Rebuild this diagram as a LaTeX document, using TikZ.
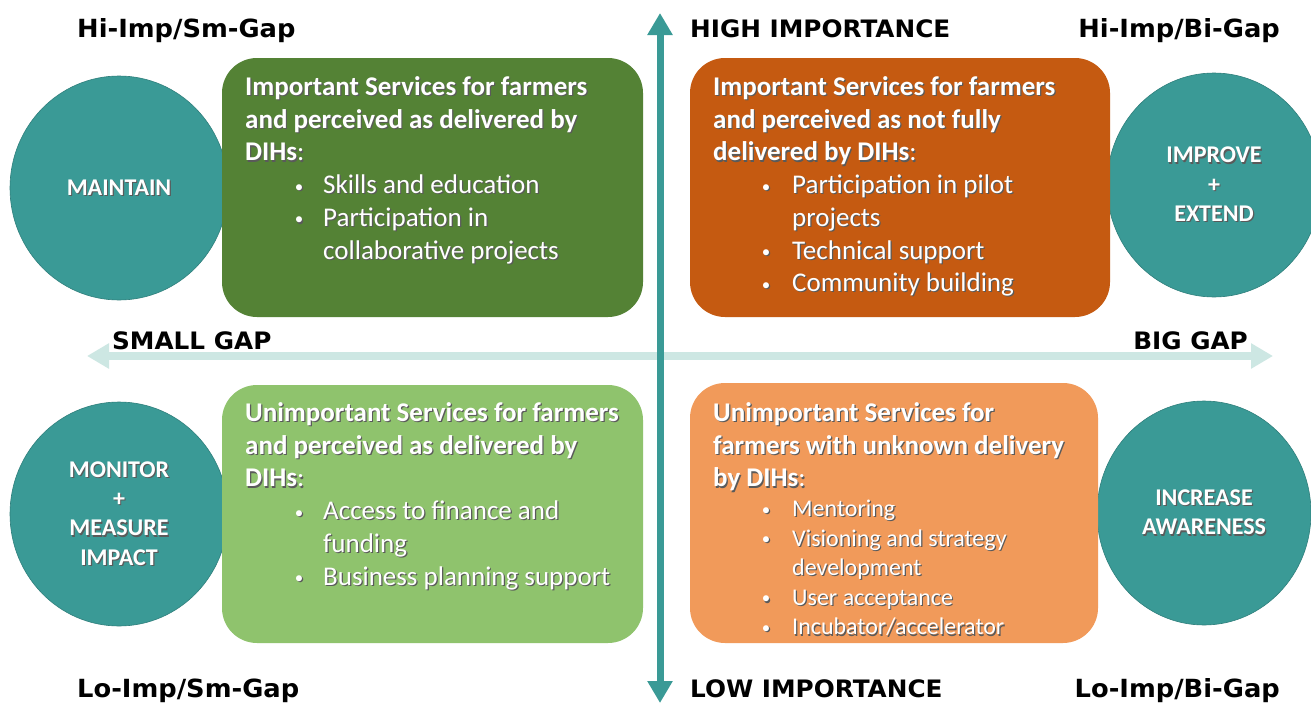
\documentclass[tikz,border=0pt]{standalone}
\usepackage{fontspec}
\setmainfont{Carlito}
\newfontfamily\lblfont{DejaVu Sans}[FakeStretch=1.03]
\usetikzlibrary{arrows.meta,shapes.geometric}
\definecolor{tealc}{HTML}{3A9A96}
\definecolor{tealline}{HTML}{2F7F7C}
\definecolor{axislight}{HTML}{CDE7E3}
\definecolor{dkgreen}{HTML}{548235}
\definecolor{dkorange}{HTML}{C55A11}
\definecolor{ltgreen}{HTML}{8FC36D}
\definecolor{ltorange}{HTML}{F19A5A}
\definecolor{shadowc}{HTML}{5A5A5A}
\newcommand\sh[1]{\leavevmode\rlap{\kern1.2pt\raisebox{-1.2pt}{\color{shadowc}#1}}#1}
% bullet: #1 = offset of bullet centre from text start, #2 = offset of item text
\newcommand\bul[2]{\hspace*{#1}\makebox[0pt][c]{\raisebox{1.5pt}{\fontsize{17}{17}\selectfont\sh{\textbullet}}}\hspace*{\dimexpr#2-#1\relax}}
\begin{document}
\begin{tikzpicture}[x=1pt,y=-1pt,
  circ/.style={ellipse, draw=tealline, line width=0.6pt, fill=tealc, minimum width=218pt, minimum height=224pt, inner sep=0pt, text=white, align=center, font=\fontsize{24}{29.3}\selectfont\bfseries},
  quad/.style={rounded corners=35pt, fill=#1, inner sep=0pt},
  boxtext/.style={anchor=base west, inner sep=0pt, text=white},
  lbl/.style={font=\lblfont\bfseries\fontsize{25}{28}\selectfont, inner sep=0pt, text=black},
  caplbl/.style={font=\lblfont\bfseries\fontsize{24}{28}\selectfont, inner sep=0pt, text=black},
  vaxis/.style={draw=tealc, line width=7pt, {Triangle[width=24pt,length=22pt]}-{Triangle[width=24pt,length=22pt]}},
  haxis/.style={draw=axislight, line width=8pt, {Triangle[width=24pt,length=22pt]}-{Triangle[width=24pt,length=22pt]}}
]
\useasboundingbox (0,0) rectangle (1311,704);
\fill[white] (0,0) rectangle (1311,704);

% axes
\coordinate (hl) at (87,356);
\coordinate (hr) at (1273,356);
\coordinate (vt) at (660,13);
\coordinate (vb) at (660,703);
\draw[haxis] (hl) -- (hr);
\draw[vaxis] (vb) -- (vt);

% circles
\node[circ] (maintain) at (119,188) {\sh{MAINTAIN}};
\node[circ, minimum width=214pt] (improve) at (1214,185) {\sh{IMPROVE}\\\sh{+}\\\sh{EXTEND}};
\node[circ] (monitor) at (119,514) {\sh{MONITOR}\\\sh{+}\\\sh{MEASURE}\\\sh{IMPACT}};
\node[circ, minimum width=214pt] (increase) at (1204,513) {\sh{INCREASE}\\\sh{AWARENESS}};

% boxes
\node[quad=dkgreen, minimum width=421pt, minimum height=259pt] (tl) at (432.5,187.5) {};
\node[quad=dkorange, minimum width=420pt, minimum height=259pt] (tr) at (900,187.5) {};
\node[quad=ltgreen, minimum width=421pt, minimum height=258pt] (bl) at (432.5,514) {};
\node[quad=ltorange, minimum width=408pt, minimum height=260pt] (br) at (894,513) {};

% box texts
\node[boxtext] (tltext) at (245,95.5) {\parbox[t]{400pt}{\raggedright\fontsize{27}{32.7}\selectfont
\sh{\textbf{Important Services for farmers}}\\
\sh{\textbf{and perceived as delivered by}}\\
\sh{\textbf{DIHs}:}\\
\bul{54pt}{78pt}\sh{Skills and education}\\
\bul{54pt}{78pt}\sh{Participation in}\\
\hspace*{78pt}\sh{collaborative projects}}};

\node[boxtext] (trtext) at (713,95.5) {\parbox[t]{400pt}{\raggedright\fontsize{27}{32.7}\selectfont
\sh{\textbf{Important Services for farmers}}\\
\sh{\textbf{and perceived as not fully}}\\
\sh{\textbf{delivered by DIHs}:}\\
\bul{53pt}{79pt}\sh{Participation in pilot}\\
\hspace*{79pt}\sh{projects}\\
\bul{53pt}{79pt}\sh{Technical support}\\
\bul{53pt}{79pt}\sh{Community building}}};

\node[boxtext] (bltext) at (245,421.5) {\parbox[t]{400pt}{\raggedright\fontsize{27}{32.7}\selectfont
\sh{\textbf{Unimportant Services for farmers}}\\
\sh{\textbf{and perceived as delivered by}}\\
\sh{\textbf{DIHs}:}\\
\bul{54pt}{78pt}\sh{Access to finance and}\\
\hspace*{78pt}\sh{funding}\\
\bul{54pt}{78pt}\sh{Business planning support}}};

\node[boxtext] (brtext) at (713,421.5) {\parbox[t]{400pt}{\raggedright\fontsize{27}{32.7}\selectfont
\sh{\textbf{Unimportant Services for}}\\
\sh{\textbf{farmers with unknown delivery}}\\
\sh{\textbf{by DIHs}:}\par
\fontsize{24}{29.6}\selectfont
\bul{53pt}{79pt}\sh{Mentoring}\\
\bul{53pt}{79pt}\sh{Visioning and strategy}\\
\hspace*{79pt}\sh{development}\\
\bul{53pt}{79pt}\sh{User acceptance}\\
\bul{53pt}{79pt}\sh{Incubator/accelerator}}};

% labels
\node[lbl, anchor=base west] (l1) at (77,37) {Hi-Imp/Sm-Gap};
\node[caplbl, anchor=base west] (l2) at (690,37) {HIGH IMPORTANCE};
\node[lbl, anchor=base east] (l3) at (1280,37) {Hi-Imp/Bi-Gap};
\node[caplbl, anchor=base west] (l4) at (112,349) {SMALL GAP};
\node[caplbl, anchor=base east] (l5) at (1248,349) {BIG GAP};
\node[lbl, anchor=base west] (l6) at (77,697) {Lo-Imp/Sm-Gap};
\node[caplbl, anchor=base west] (l7) at (690,697) {LOW IMPORTANCE};
\node[lbl, anchor=base east] (l8) at (1280,697) {Lo-Imp/Bi-Gap};
\end{tikzpicture}
\end{document}
